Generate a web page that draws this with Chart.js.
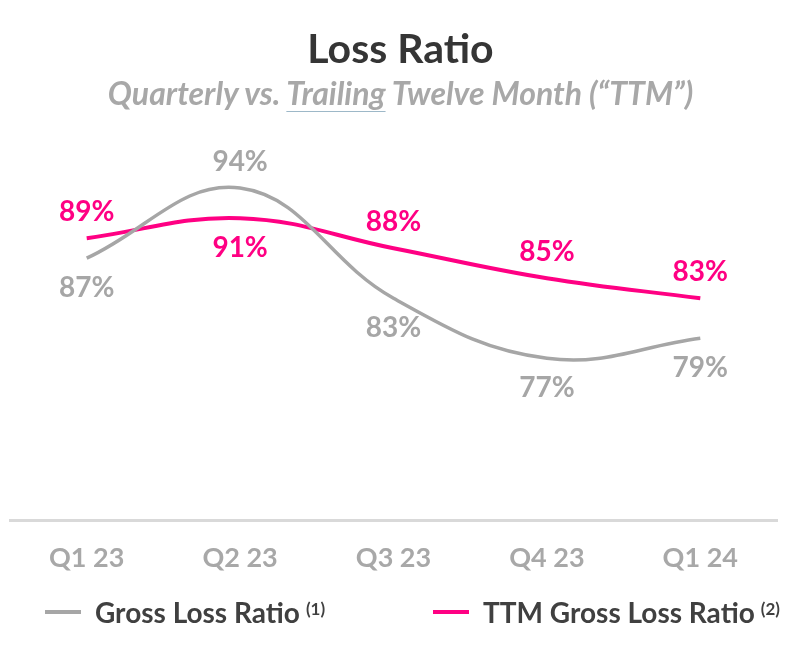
<!DOCTYPE html>
<html>
<head>
<meta charset="utf-8">
<script src="https://cdn.jsdelivr.net/npm/chart.js@4"></script>
<style>
  html, body { margin: 0; padding: 0; background: #fff; }
  #wrap { position: relative; width: 801px; height: 646px; font-family: Lato, 'Open Sans', sans-serif; }
  #chart { position: absolute; left: 0; top: 0; }
  .title { position: absolute; left: 0; width: 801px; top: 24px; text-align: center;
           font-size: 41px; font-weight: 700; color: #353535; line-height: 48px; }
  .subtitle { position: absolute; left: 0; width: 801px; top: 75px; text-align: center;
              font-size: 32px; font-weight: 700; font-style: italic; color: #a8a8a8; line-height: 36px; }
  .subtitle u { text-decoration-color: #9db8c8; text-decoration-thickness: 1px; text-underline-offset: 6px; }
  .legend { position: absolute; top: 594px; height: 36px; display: flex; align-items: center;
            font-size: 28px; font-weight: 700; color: #404040; }
  .legend .swatch { width: 36px; height: 4px; margin-right: 14px; }
  .legend sup { font-size: 17px; font-weight: 700; margin-left: 6px; position: relative; top: -4px; }
</style>
</head>
<body>
<div id="wrap">
  <canvas id="chart" width="801" height="646"></canvas>
  <div class="title">Loss Ratio</div>
  <div class="subtitle">Quarterly vs. <u>Trailing</u> Twelve Month (“TTM”)</div>
  <div class="legend" style="left:45px"><span class="swatch" style="background:#a6a6a6"></span>Gross Loss Ratio<sup>(1)</sup></div>
  <div class="legend" style="left:433px"><span class="swatch" style="background:#ff0083"></span>TTM Gross Loss Ratio<sup>(2)</sup></div>
</div>
<script>
// Loss ratio by quarter, in percent
const QUARTERS  = ['Q1 23', 'Q2 23', 'Q3 23', 'Q4 23', 'Q1 24'];
const GROSS_LR  = [87, 94, 83, 77, 79];
const TTM_LR    = [89, 91, 88, 85, 83];

const Y_MIN = 60.8;
const Y_MAX = 100;

const COLORS = {
  gross: '#a6a6a6',
  ttm:   '#ff0083',
  axis:  '#d9d9d9',
  tick:  '#a8a8a8',
};

// Percent labels: the higher series of each quarter sits above its line, the lower one below
const pointLabels = {
  id: 'pointLabels',
  afterDatasetsDraw(chart) {
    const ctx = chart.ctx;
    const series = [GROSS_LR, TTM_LR];
    ctx.save();
    ctx.font = '700 28px Lato, sans-serif';
    ctx.textAlign = 'center';
    ctx.textBaseline = 'middle';
    chart.data.datasets.forEach((ds, di) => {
      const other = series[1 - di];
      chart.getDatasetMeta(di).data.forEach((pt, i) => {
        const above = ds.data[i] > other[i];
        ctx.fillStyle = ds.borderColor;
        ctx.fillText(ds.data[i] + '%', pt.x, pt.y + (above ? -26 : 30));
      });
    });
    ctx.restore();
  },
};

function renderChart() {
  const ctx = document.getElementById('chart').getContext('2d');
  new Chart(ctx, {
    type: 'line',
    data: {
      labels: QUARTERS,
      datasets: [
        {
          label: 'Gross Loss Ratio',
          data: GROSS_LR,
          borderColor: COLORS.gross,
          borderWidth: 3.5,
          tension: 0.4,
          pointRadius: 0,
        },
        {
          label: 'TTM Gross Loss Ratio',
          data: TTM_LR,
          borderColor: COLORS.ttm,
          borderWidth: 4,
          tension: 0.4,
          pointRadius: 0,
        },
      ],
    },
    options: {
      responsive: false,
      animation: false,
      layout: { padding: { left: 10, right: 24, top: 128, bottom: 51 } },
      plugins: {
        legend: { display: false },
        tooltip: { enabled: false },
      },
      scales: {
        y: { display: false, min: Y_MIN, max: Y_MAX },
        x: {
          offset: true,
          grid: { display: false, drawTicks: false },
          border: { display: true, color: COLORS.axis, width: 3 },
          ticks: {
            padding: 21,
            color: COLORS.tick,
            font: { family: 'Lato', size: 27, weight: '700' },
          },
        },
      },
    },
    plugins: [pointLabels],
  });
}

document.addEventListener('DOMContentLoaded', renderChart);
</script>
</body>
</html>
